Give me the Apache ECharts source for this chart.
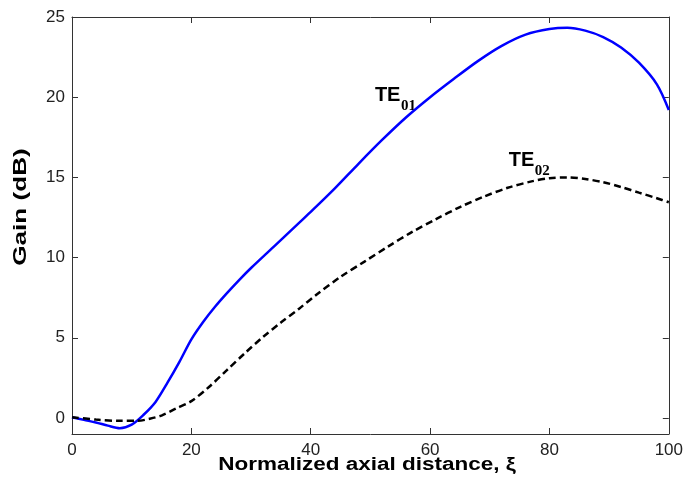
<!DOCTYPE html>
<html>
<head>
<meta charset="utf-8">
<script src="https://cdn.jsdelivr.net/npm/echarts@6/dist/echarts.min.js"></script>
<style>
  html, body { margin: 0; padding: 0; background: #fff; }
  #chart { width: 686px; height: 496px; }
</style>
</head>
<body>
<div id="chart"></div>
<script>
// TE01 mode gain (solid blue)
const te01X = [0, 2, 4, 6, 8, 10, 12, 14, 16, 18, 20, 22, 24, 26, 28, 30, 34, 38, 40, 44, 48, 52, 56, 60, 64, 68, 72, 76, 80, 83, 86, 89, 92, 95, 98, 100]
const te01Y = [0.05, -0.12, -0.28, -0.48, -0.64, -0.42, 0.2, 1.0, 2.2, 3.5, 4.9, 6.0, 6.95, 7.8, 8.6, 9.35, 10.75, 12.15, 12.85, 14.3, 15.85, 17.35, 18.75, 20.0, 21.15, 22.25, 23.2, 23.9, 24.25, 24.33, 24.15, 23.75, 23.1, 22.15, 20.8, 19.2]

// TE02 mode gain (dashed black)
const te02X = [0, 4, 8, 11, 13, 15, 17.5, 20, 23, 26, 29, 32, 35, 38, 41, 45, 49, 53, 57, 61, 65, 69, 73, 77, 80, 83, 86, 89, 92, 95, 98, 100]
const te02Y = [0.05, -0.1, -0.18, -0.18, -0.05, 0.15, 0.6, 1.05, 1.95, 3.0, 4.05, 5.05, 5.95, 6.8, 7.7, 8.8, 9.75, 10.7, 11.6, 12.4, 13.15, 13.8, 14.35, 14.75, 14.95, 15.0, 14.9, 14.7, 14.4, 14.05, 13.7, 13.45]

const xTicks = [0, 20, 40, 60, 80, 100]
const yTicks = [0, 5, 10, 15, 20, 25]

// curve labels: main text, subscript, anchor x, anchor y (data units, baseline-left)
const labelTE01 = ['TE', '01', 50.75, 19.72]
const labelTE02 = ['TE', '02', 73.2, 15.67]

const pairs = (xs, ys) => xs.map((x, i) => [x, ys[i]])

const axisColor = '#333'
const tickFont = { fontSize: 17, color: '#222', fontFamily: 'Liberation Sans, Arial, sans-serif' }

const chart = echarts.init(document.getElementById('chart'))

const xBase = {
  type: 'value',
  min: 0,
  max: 100,
  interval: 20,
  splitLine: { show: false },
  axisLine: { onZero: false, lineStyle: { color: axisColor, width: 1 } },
  axisTick: { inside: true, length: 6, lineStyle: { color: axisColor } },
}
const yBase = {
  type: 'value',
  min: -1,
  max: 25,
  splitLine: { show: false },
  axisLine: { show: true, onZero: false, lineStyle: { color: axisColor, width: 1 } },
  axisTick: { show: true, inside: true, length: 6, customValues: yTicks, lineStyle: { color: axisColor } },
}

chart.setOption({
  animation: false,
  grid: { left: 72, right: 17, top: 17, bottom: 62 },
  xAxis: [
    { ...xBase, position: 'bottom', axisLabel: { ...tickFont, margin: 8, customValues: xTicks } },
    { ...xBase, position: 'top', axisLabel: { show: false } },
  ],
  yAxis: [
    { ...yBase, position: 'left', axisLabel: { ...tickFont, margin: 7, customValues: yTicks } },
    { ...yBase, position: 'right', axisLabel: { show: false } },
  ],
  series: [
    {
      name: 'TE01',
      type: 'line',
      data: pairs(te01X, te01Y),
      smooth: 0.3,
      showSymbol: false,
      lineStyle: { color: '#0000ff', width: 2.5 },
    },
    {
      name: 'TE02',
      type: 'line',
      data: pairs(te02X, te02Y),
      smooth: 0.3,
      showSymbol: false,
      lineStyle: { color: '#000', width: 2.5, type: [7, 4] },
    },
  ],
})

function curveLabel([main, sub, x, y]) {
  const [px, py] = chart.convertToPixel({ xAxisIndex: 0, yAxisIndex: 0 }, [x, y])
  return [
    {
      type: 'text',
      x: px,
      y: py + 4,
      style: {
        text: main,
        fontSize: 20,
        fontWeight: 'bold',
        fontFamily: 'Liberation Sans, Arial, sans-serif',
        fill: '#000',
        align: 'left',
        verticalAlign: 'bottom',
      },
    },
    {
      type: 'text',
      x: px + 26,
      y: py + 12,
      style: {
        text: sub,
        fontSize: 15,
        fontWeight: 'bold',
        fontFamily: 'Liberation Serif, Times New Roman, serif',
        fill: '#000',
        align: 'left',
        verticalAlign: 'bottom',
      },
    },
  ]
}

chart.setOption({
  graphic: [
    {
      type: 'text',
      x: 367,
      y: 465,
      scaleX: 1.25,
      style: {
        text: 'Normalized axial distance, ξ',
        fontSize: 18,
        fontWeight: 'bold',
        fontFamily: 'Liberation Sans, Arial, sans-serif',
        fill: '#000',
        align: 'center',
        verticalAlign: 'middle',
      },
    },
    {
      type: 'text',
      x: 21,
      y: 207,
      rotation: Math.PI / 2,
      scaleX: 1.45,
      style: {
        text: 'Gain (dB)',
        fontSize: 18,
        fontWeight: 'bold',
        fontFamily: 'Liberation Sans, Arial, sans-serif',
        fill: '#000',
        align: 'center',
        verticalAlign: 'middle',
      },
    },
    ...curveLabel(labelTE01),
    ...curveLabel(labelTE02),
  ],
})
</script>
</body>
</html>
